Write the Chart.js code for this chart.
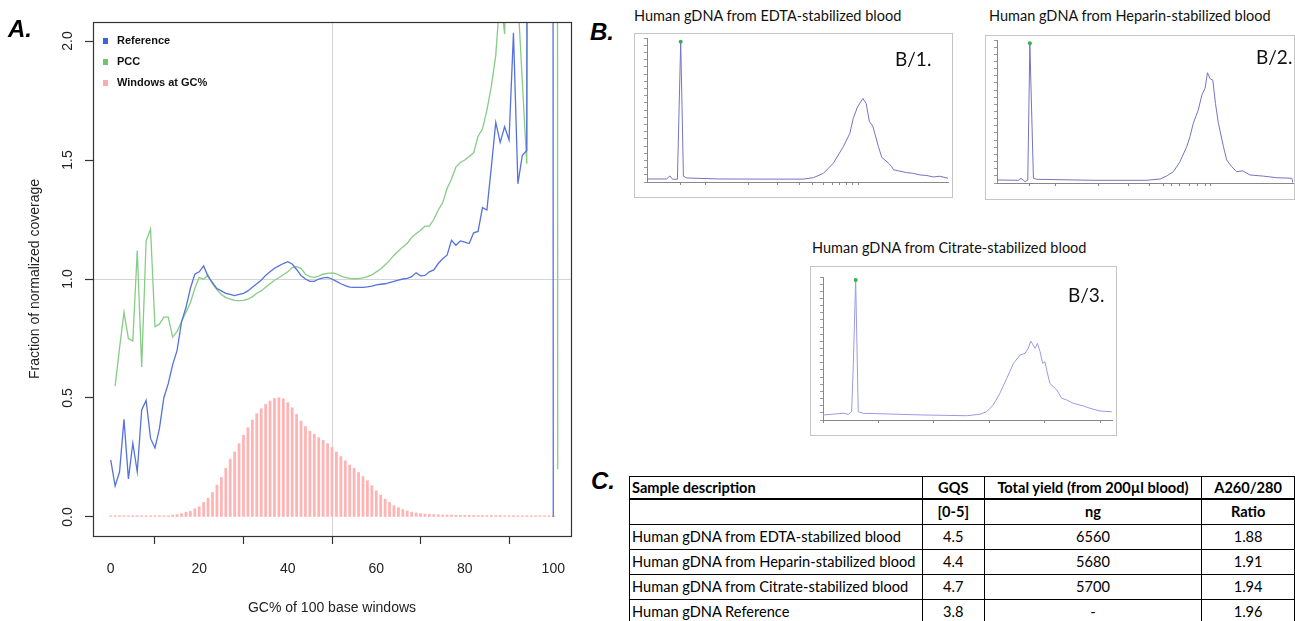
<!DOCTYPE html>
<html>
<head>
<meta charset="utf-8">
<script src="https://cdn.jsdelivr.net/npm/chart.js@4.4.1/dist/chart.umd.min.js"></script>
<style>
  html, body { margin: 0; padding: 0; background: #fff; }
  body { width: 1295px; height: 621px; position: relative; overflow: hidden; }
  canvas { position: absolute; }
  .tag { position: absolute; font: bold italic 24px "Liberation Sans", Arial, sans-serif; color: #000; line-height: 1; }
  .btitle { position: absolute; font: 14.5px Lato, sans-serif; color: #111; white-space: nowrap; line-height: 1; }
  .blabel { position: absolute; font: 19px Lato, sans-serif; color: #111; line-height: 1; }
  .frame { position: absolute; border: 1px solid #c4c4c4; box-sizing: border-box; pointer-events: none; }
  table { position: absolute; left: 629px; top: 476px; border-collapse: collapse; table-layout: fixed;
          font: 14.6px Lato, sans-serif; color: #000; }
  td { border: 1px solid #000; padding: 0 2px; height: 24px; line-height: 24px; white-space: nowrap; overflow: hidden; }
  tr.head td { font-weight: bold; height: 21px; line-height: 21px; border-bottom: 2px solid #000; }
  tr.units td { font-weight: bold; }
  td.c { text-align: center; }
</style>
</head>
<body>

<canvas id="coverageChart" width="590" height="621" style="left:0;top:0"></canvas>
<div class="tag" style="left:8px;top:17px">A.</div>

<div class="tag" style="left:590px;top:20px">B.</div>
<div class="btitle" style="left:634px;top:9px">Human gDNA from EDTA-stabilized blood</div>
<canvas id="edtaTrace" width="319" height="165" style="left:634px;top:33px"></canvas>
<div class="frame" style="left:634px;top:33px;width:319px;height:165px"></div>
<div class="blabel" style="left:895px;top:49px">B/1.</div>

<div class="btitle" style="left:989px;top:9px">Human gDNA from Heparin-stabilized blood</div>
<canvas id="heparinTrace" width="310" height="165" style="left:985px;top:35px"></canvas>
<div class="frame" style="left:985px;top:35px;width:310px;height:165px"></div>
<div class="blabel" style="left:1256px;top:47px">B/2.</div>

<div class="btitle" style="left:812px;top:241px">Human gDNA from Citrate-stabilized blood</div>
<canvas id="citrateTrace" width="307" height="170" style="left:810px;top:266px"></canvas>
<div class="frame" style="left:810px;top:266px;width:307px;height:170px"></div>
<div class="blabel" style="left:1068px;top:285px">B/3.</div>

<div class="tag" style="left:591px;top:469px">C.</div>
<table id="qcTable"></table>

<script>
// ---- Panel A: GC bias ----
const gcPercent = [0,1,2,3,4,5,6,7,8,9,10,11,12,13,14,15,16,17,18,19,20,21,22,23,24,25,26,27,28,29,30,
  31,32,33,34,35,36,37,38,39,40,41,42,43,44,45,46,47,48,49,50,51,52,53,54,55,56,57,58,59,60,
  61,62,63,64,65,66,67,68,69,70,71,72,73,74,75,76,77,78,79,80,81,82,83,84,85,86,87,88,89,90,
  91,92,93,94,95,96,97,98,99,100];

const refCoverage = [0.24,0.13,0.19,0.41,0.16,0.31,0.19,0.45,0.49,0.33,
  0.29,0.37,0.50,0.56,0.64,0.70,0.82,0.88,0.96,1.02,
  1.03,1.055,1.01,0.985,0.96,0.95,0.94,0.935,0.93,0.935,
  0.94,0.95,0.965,0.98,0.995,1.015,1.03,1.045,1.055,1.065,
  1.073,1.063,1.04,1.015,1.0,0.99,0.99,1.0,1.005,1.007,
  1.0,0.99,0.98,0.972,0.966,0.965,0.965,0.965,0.967,0.97,
  0.975,0.978,0.98,0.985,0.99,0.995,1.0,1.003,1.01,1.026,
  1.013,1.015,1.03,1.038,1.065,1.085,1.10,1.163,1.142,1.16,
  1.155,1.149,1.194,1.20,1.30,1.29,1.47,1.658,1.574,1.64,
  1.584,2.035,1.40,1.52,1.54,12,8,15,10,40,
  0];

const pccGcPercent = [1,2,3,4,5,6,7,8,9,10,11,12,13,14,15,16,17,18,19,20,21,22,23,24,25,26,27,28,29,30,
  31,32,33,34,35,36,37,38,39,40,41,42,43,44,45,46,47,48,49,50,51,52,53,54,55,56,57,58,59,60,
  61,62,63,64,65,66,67,68,69,70,71,72,73,74,75,76,77,78,79,80,81,82,83,84,85,86,87,88,89,90,
  91,92,93,94,95,96,97,98,99,100,101];

const pccCoverage = [0.55,0.71,0.86,0.75,0.74,1.12,0.63,1.16,1.21,0.80,
  0.81,0.84,0.84,0.756,0.78,0.82,0.86,0.90,0.96,1.007,
  0.999,1.017,0.979,0.955,0.935,0.922,0.915,0.91,0.909,0.91,
  0.915,0.925,0.94,0.95,0.965,0.98,0.995,1.005,1.018,1.03,
  1.048,1.052,1.045,1.02,1.01,1.007,1.012,1.02,1.024,1.026,
  1.022,1.012,1.007,1.003,1.001,1.002,1.005,1.01,1.017,1.03,
  1.042,1.06,1.077,1.10,1.118,1.135,1.15,1.175,1.19,1.205,
  1.222,1.222,1.25,1.29,1.32,1.38,1.42,1.47,1.49,1.50,
  1.515,1.53,1.60,1.63,1.71,1.81,1.94,2.2,2.03,2.6,
  3.0,2.18,1.83,1.484,12,9,14,10,20,45,
  0.2];

const windowsAtGc = [0.005,0.005,0.005,0.005,0.005,0.005,0.005,0.005,0.005,0.005,
  0.005,0.005,0.005,0.005,0.008,0.01,0.014,0.02,0.024,0.034,
  0.043,0.061,0.079,0.103,0.134,0.166,0.204,0.243,0.273,0.308,
  0.343,0.375,0.407,0.434,0.455,0.473,0.487,0.498,0.501,0.497,
  0.48,0.459,0.431,0.403,0.38,0.361,0.347,0.333,0.322,0.308,
  0.292,0.273,0.254,0.236,0.218,0.204,0.187,0.17,0.152,0.131,
  0.11,0.092,0.075,0.061,0.047,0.039,0.031,0.025,0.02,0.017,
  0.014,0.012,0.011,0.01,0.009,0.008,0.008,0.008,0.007,0.007,
  0.007,0.007,0.006,0.006,0.006,0.006,0.006,0.006,0.006,0.005,
  0.005,0.005,0.005,0.005,0.005,0.005,0.005,0.005,0.005,0.005,
  0.005];

const xTickValues = [0, 20, 40, 60, 80, 100];
const yTickValues = [0, 0.5, 1, 1.5, 2];

// ---- Panel B: electropherograms (arbitrary size axis 0-100, signal 0-100) ----
const edtaSize = [0,6.5,7.6,8.5,10.1,11.2,12.1,13.2,24,40.6,51.9,55.3,58.6,61.9,65.2,67.4,68.5,69.9,71.7,72.8,
  73.9,75,76.9,78,79.7,81.2,81.9,83.5,86.3,88.5,90.7,93,95.1,97.3,100];
const edtaSignal = [2.1,2.1,4.2,1.9,1.9,97.4,4.0,2.8,2.1,2.0,2.0,3.0,6.0,13,24.5,33.8,44,52,58,54.6,
  41.9,38.9,24.5,17.1,14.1,11,8.5,7.8,6.5,6.0,4.9,4.5,3.5,4.0,2.6];
const edtaLadder = [11,19.6,33.6,43.5,50.5,55.1,58.5,61.5,64.1,66.4,68.4,70.1];

const heparinSize = [0,7.2,8.1,9.5,10.4,11.1,12.3,13.4,32.5,50.6,55.1,57.3,59.6,61.8,64.1,65.2,66.3,68,69.2,70.3,
  71.1,72,72.9,73.8,74.8,76.5,77.6,79.3,81,83,85.5,90,94.5,99.6,100];
const heparinSignal = [2.1,1.9,3.3,0.9,2.1,97.7,3.3,2.6,1.9,1.9,2.8,4.9,7.9,14.9,25.4,32.4,41.7,51,61.5,66.2,
  77.1,72.9,72,55.7,41.7,25.4,16.1,11.4,7.9,8.5,5.6,4.8,3.7,3.3,0.2];
const heparinLadder = [11.1,19.8,34.2,44.4,51.4,56.2,59,61.8,65.2,67.7,70.3,72];

const citrateSize = [0,7,8.8,9.9,10.5,11.3,12.2,13.9,34.7,49.7,54.3,56.6,58.9,61.2,63.6,65.9,68.2,69.9,71,71.9,
  73.4,74.2,75.1,76,76.8,77.4,78.5,80.9,82.6,84.3,86.6,90.1,92.4,95.8,99.9];
const citrateSignal = [3.5,4.7,4.0,5.8,39.6,97.9,5.8,4.7,3.5,3.0,4.0,5.8,10.5,18.7,29.1,39.6,45.5,46.6,50.1,55.2,
  50.1,53.6,47.8,39.6,40.8,35,25.6,21,15.2,14,11.7,9.8,8.2,6.3,5.8];
const citrateLadder = [0,19.1,38.4,57.5,76.8,96.1];

// ---- Panel C: QC table ----
const tableHeader = ['Sample description', 'GQS', 'Total yield (from 200µl blood)', 'A260/280'];
const tableUnits = ['', '[0-5]', 'ng', 'Ratio'];
const sampleNames = ['Human gDNA from EDTA-stabilized blood', 'Human gDNA from Heparin-stabilized blood',
  'Human gDNA from Citrate-stabilized blood', 'Human gDNA Reference'];
const gqsScores = ['4.5', '4.4', '4.7', '3.8'];
const totalYield = ['6560', '5680', '5700', '-'];
const a260Ratio = ['1.88', '1.91', '1.94', '1.96'];

Chart.defaults.font.family = '"Liberation Sans", Arial, sans-serif';
Chart.defaults.color = '#222';

const toPoints = (xs, ys) => xs.map((x, i) => ({x: x, y: ys[i]}));

// draws the R-style box, reference lines, rotated y labels and legend
const rPlotDecor = {
  id: 'rPlotDecor',
  beforeDatasetsDraw(chart) {
    const {ctx, chartArea: a, scales: {x, y}} = chart;
    ctx.save();
    ctx.strokeStyle = '#d4d4d4';
    ctx.lineWidth = 1;
    ctx.beginPath();
    const gx = Math.round(x.getPixelForValue(50)) + 0.5;
    ctx.moveTo(gx, a.top); ctx.lineTo(gx, a.bottom);
    const gy = Math.round(y.getPixelForValue(1)) + 0.5;
    ctx.moveTo(a.left, gy); ctx.lineTo(a.right, gy);
    ctx.stroke();
    ctx.restore();
  },
  afterDraw(chart) {
    const {ctx, chartArea: a, scales: {y}} = chart;
    ctx.save();
    ctx.strokeStyle = '#333';
    ctx.lineWidth = 1.2;
    ctx.strokeRect(Math.round(a.left) + 0.5, Math.round(a.top) + 0.5, Math.round(a.right - a.left), Math.round(a.bottom - a.top));

    ctx.fillStyle = '#222';
    ctx.font = '14px "Liberation Sans", Arial, sans-serif';
    ctx.textAlign = 'center';
    ctx.textBaseline = 'middle';
    yTickValues.forEach(v => {
      ctx.save();
      ctx.translate(68, y.getPixelForValue(v));
      ctx.rotate(-Math.PI / 2);
      ctx.fillText(v.toFixed(1), 0, 0);
      ctx.restore();
    });

    ctx.font = 'bold 11px "Liberation Sans", Arial, sans-serif';
    ctx.textAlign = 'left';
    chart.data.datasets.forEach((ds, i) => {
      const cy = 41 + i * 21;
      ctx.fillStyle = ds.legendColor;
      ctx.fillRect(103, cy - 3, 5, 6);
      ctx.fillStyle = '#111';
      ctx.fillText(ds.label, 117, cy);
    });
    ctx.restore();
  }
};

new Chart(document.getElementById('coverageChart'), {
  type: 'line',
  data: {
    datasets: [
      {
        label: 'Reference',
        data: toPoints(gcPercent, refCoverage),
        borderColor: '#5572dd', legendColor: '#3f63dc',
        borderWidth: 1.3, pointRadius: 0, tension: 0, order: 0
      },
      {
        label: 'PCC',
        data: toPoints(pccGcPercent, pccCoverage),
        borderColor: '#86cc86', legendColor: '#6fc46f',
        borderWidth: 1.3, pointRadius: 0, tension: 0, order: 1
      },
      {
        type: 'bar',
        label: 'Windows at GC%',
        data: toPoints(gcPercent, windowsAtGc),
        backgroundColor: '#ffb3b3', legendColor: '#ffabab',
        barThickness: 2.1, order: 2
      }
    ]
  },
  options: {
    responsive: false,
    animation: false,
    events: [],
    layout: {padding: {top: 22, right: 19, left: 0, bottom: 0}},
    plugins: {legend: {display: false}, tooltip: {enabled: false}},
    scales: {
      x: {
        type: 'linear', min: -4, max: 104, offset: false,
        afterBuildTicks: s => { s.ticks = xTickValues.map(v => ({value: v})); },
        afterFit: s => { s.height = 85; },
        ticks: {font: {size: 14}, padding: 17, maxRotation: 0, autoSkip: false},
        grid: {drawOnChartArea: false, drawTicks: true, tickLength: 8, tickColor: '#333', tickWidth: 1.2},
        border: {display: false},
        title: {display: true, text: 'GC% of 100 base windows', font: {size: 14}, padding: {top: 0, bottom: 4}}
      },
      y: {
        type: 'linear', min: -0.08, max: 2.08,
        afterBuildTicks: s => { s.ticks = yTickValues.map(v => ({value: v})); },
        afterFit: s => { s.width = 93; },
        ticks: {display: false},
        grid: {drawOnChartArea: false, drawTicks: true, tickLength: 8, tickColor: '#333', tickWidth: 1.2},
        border: {display: false},
        title: {display: true, text: 'Fraction of normalized coverage', font: {size: 14}, padding: {top: 27, bottom: 0}}
      }
    }
  },
  plugins: [rPlotDecor]
});

function drawTrace(canvasId, sizes, signal, ladder, peakIndex, lineColor, box) {
  new Chart(document.getElementById(canvasId), {
    type: 'line',
    data: {
      datasets: [{
        data: toPoints(sizes, signal),
        borderColor: lineColor,
        borderWidth: 1,
        tension: 0,
        pointRadius: c => (c.dataIndex === peakIndex ? 2 : 0),
        pointBackgroundColor: '#2fb34a',
        pointBorderWidth: 0
      }]
    },
    options: {
      responsive: false,
      animation: false,
      events: [],
      layout: {padding: {top: box.top, right: box.right, left: 0, bottom: 0}},
      plugins: {legend: {display: false}, tooltip: {enabled: false}},
      scales: {
        x: {
          type: 'linear', min: 0, max: 100, offset: false,
          afterBuildTicks: s => { s.ticks = ladder.map(v => ({value: v})); },
          afterFit: s => { s.height = box.bottom; },
          ticks: {display: false},
          grid: {drawOnChartArea: false, tickLength: 3, tickColor: '#888'},
          border: {color: '#888'}
        },
        y: {
          type: 'linear', min: 0, max: 100,
          afterFit: s => { s.width = box.left; },
          ticks: {display: false, stepSize: 5},
          grid: {drawOnChartArea: false, tickLength: 3, tickColor: '#999'},
          border: {color: '#888'}
        }
      }
    }
  });
}

drawTrace('edtaTrace', edtaSize, edtaSignal, edtaLadder, 5, '#7474c0', {left: 13, top: 5, right: 5, bottom: 16});
drawTrace('heparinTrace', heparinSize, heparinSignal, heparinLadder, 5, '#7474c0', {left: 12, top: 5, right: 2, bottom: 17});
drawTrace('citrateTrace', citrateSize, citrateSignal, citrateLadder, 5, '#9a9ae6', {left: 13, top: 11, right: 5, bottom: 16});

// table
const colWidths = [293, 62, 218, 93];
const table = document.getElementById('qcTable');
const colgroup = document.createElement('colgroup');
colWidths.forEach(w => { const c = document.createElement('col'); c.style.width = w + 'px'; colgroup.appendChild(c); });
table.appendChild(colgroup);
function addRow(cells, cls) {
  const tr = document.createElement('tr');
  if (cls) tr.className = cls;
  cells.forEach((t, i) => {
    const td = document.createElement('td');
    td.textContent = t;
    if (i > 0) td.className = 'c';
    tr.appendChild(td);
  });
  table.appendChild(tr);
}
addRow(tableHeader, 'head');
addRow(tableUnits, 'units');
sampleNames.forEach((name, i) => addRow([name, gqsScores[i], totalYield[i], a260Ratio[i]]));
</script>
</body>
</html>
